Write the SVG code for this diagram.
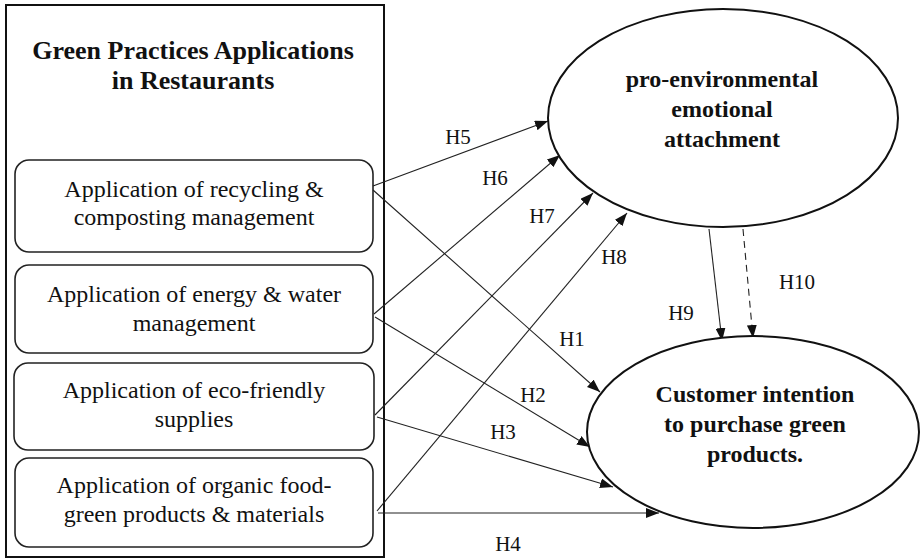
<svg xmlns="http://www.w3.org/2000/svg" width="921" height="560" viewBox="0 0 921 560">
<style>
.t{font-family:"Liberation Serif","Times New Roman",serif;fill:#111;text-anchor:middle}
.b{font-weight:bold;font-size:24px}
.n{font-size:24px}
.l{font-size:21px}
.box{fill:#fff;stroke:#222;stroke-width:1.6}
.ell{fill:#fff;stroke:#111;stroke-width:2}
.c{stroke:#222;stroke-width:1.1;fill:none}
</style>
<defs>
<marker id="ah" markerUnits="userSpaceOnUse" markerWidth="14" markerHeight="10" refX="13" refY="5" orient="auto">
<path d="M0,0 L13,5 L0,10 z" fill="#111"/>
</marker>
</defs>
<g id="container">
<rect x="6" y="5" width="378" height="552" fill="#fff" stroke="#111" stroke-width="2"/>
<text class="t b" x="193" y="59" style="font-size:26px">Green Practices Applications</text>
<text class="t b" x="193" y="89" style="font-size:26px">in Restaurants</text>
</g>
<g id="box1">
<rect class="box" x="15" y="160" width="358" height="92" rx="14"/>
<text class="t n" x="194" y="197">Application of recycling &amp;</text>
<text class="t n" x="194" y="225">composting management</text>
</g>
<g id="box2">
<rect class="box" x="15" y="265" width="358" height="88" rx="14"/>
<text class="t n" x="194" y="302">Application of energy &amp; water</text>
<text class="t n" x="194" y="331">management</text>
</g>
<g id="box3">
<rect class="box" x="14" y="363" width="360" height="87" rx="14"/>
<text class="t n" x="194" y="398">Application of eco-friendly</text>
<text class="t n" x="194" y="427">supplies</text>
</g>
<g id="box4">
<rect class="box" x="15" y="458" width="358" height="89" rx="14"/>
<text class="t n" x="194" y="493">Application of organic food-</text>
<text class="t n" x="194" y="522">green products &amp; materials</text>
</g>
<g id="connectors">
<line class="c" x1="373" y1="186" x2="548" y2="121" marker-end="url(#ah)"/>
<line class="c" x1="374" y1="314" x2="560" y2="155" marker-end="url(#ah)"/>
<line class="c" x1="375" y1="415" x2="593" y2="193" marker-end="url(#ah)"/>
<line class="c" x1="377" y1="511" x2="627" y2="213" marker-end="url(#ah)"/>
<line class="c" x1="373" y1="190" x2="600" y2="392" marker-end="url(#ah)"/>
<line class="c" x1="375" y1="317" x2="590" y2="447" marker-end="url(#ah)"/>
<line class="c" x1="377" y1="417" x2="613" y2="487" marker-end="url(#ah)"/>
<line class="c" x1="378" y1="513" x2="659" y2="513" marker-end="url(#ah)"/>
<line class="c" x1="709" y1="229" x2="722" y2="341" marker-end="url(#ah)"/>
<line class="c" x1="743" y1="229" x2="753" y2="338" stroke-dasharray="7,5" marker-end="url(#ah)"/>
<text class="t l" x="458" y="144">H5</text>
<text class="t l" x="495" y="185">H6</text>
<text class="t l" x="542" y="223">H7</text>
<text class="t l" x="614" y="264">H8</text>
<text class="t l" x="572" y="346">H1</text>
<text class="t l" x="533" y="402">H2</text>
<text class="t l" x="503" y="439">H3</text>
<text class="t l" x="508" y="551">H4</text>
<text class="t l" x="681" y="320">H9</text>
<text class="t l" x="797" y="289">H10</text>
</g>
<g id="emotional">
<ellipse class="ell" cx="723" cy="118" rx="175" ry="109"/>
<text class="t b" x="722" y="87">pro-environmental</text>
<text class="t b" x="722" y="117">emotional</text>
<text class="t b" x="722" y="147">attachment</text>
</g>
<g id="intention">
<ellipse class="ell" cx="753" cy="432" rx="166" ry="96"/>
<text class="t b" x="755" y="402">Customer intention</text>
<text class="t b" x="755" y="432">to purchase green</text>
<text class="t b" x="755" y="462">products.</text>
</g>
</svg>
